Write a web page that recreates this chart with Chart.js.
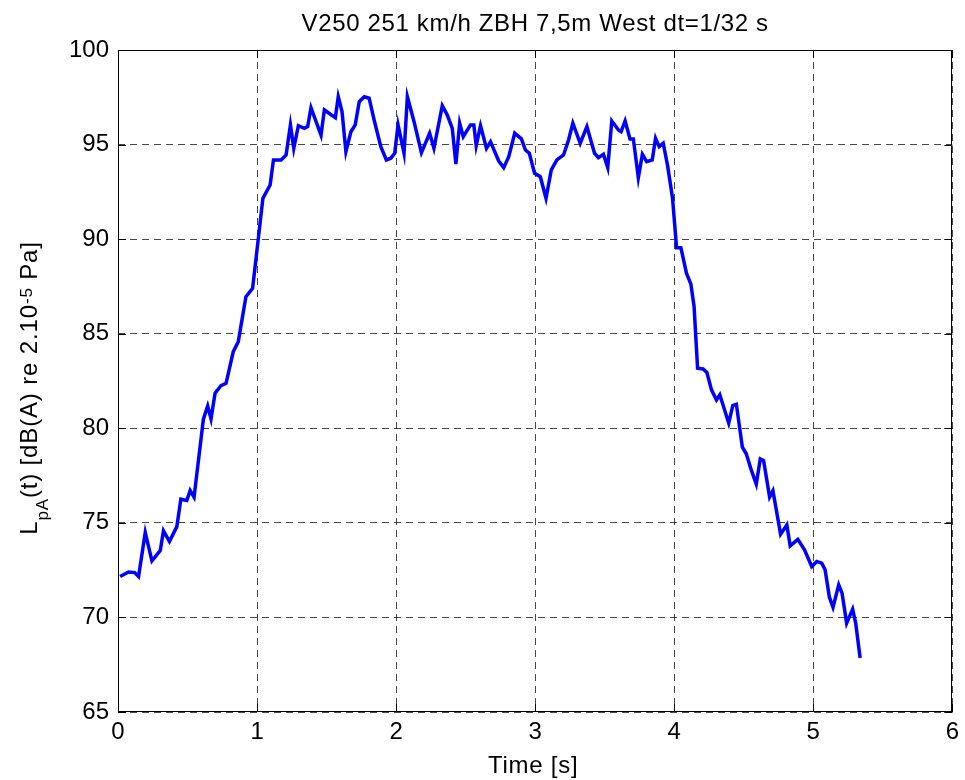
<!DOCTYPE html>
<html>
<head>
<meta charset="utf-8">
<script src="https://cdn.jsdelivr.net/npm/chart.js@4.4.1/dist/chart.umd.min.js"></script>
<style>
  html, body { margin: 0; padding: 0; background: #fff; }
  #wrap { width: 965px; height: 780px; position: relative; }
</style>
</head>
<body>
<div id="wrap"><canvas id="c" width="965" height="780"></canvas></div>
<script>
const chartTitle = "V250 251 km/h ZBH 7,5m West dt=1/32 s";
const xTitle = "Time [s]";
const xTicks = [0, 1, 2, 3, 4, 5, 6];
const yTicks = [65, 70, 75, 80, 85, 90, 95, 100];

const times = [
  0.015, 0.076, 0.12, 0.148, 0.196, 0.244, 0.304, 0.327, 0.37, 0.423,
  0.452, 0.495, 0.519, 0.547, 0.614, 0.645, 0.669, 0.698, 0.741, 0.777,
  0.829, 0.865, 0.92, 0.968, 1.008, 1.042, 1.094, 1.118, 1.173, 1.209,
  1.24, 1.264, 1.297, 1.34, 1.364, 1.388, 1.46, 1.484, 1.563, 1.584,
  1.611, 1.639, 1.675, 1.706, 1.735, 1.771, 1.806, 1.842, 1.89, 1.93,
  1.962, 1.99, 2.014, 2.057, 2.081, 2.129, 2.182, 2.241, 2.272, 2.332,
  2.368, 2.404, 2.43, 2.457, 2.483, 2.535, 2.559, 2.576, 2.607, 2.65,
  2.679, 2.738, 2.774, 2.81, 2.853, 2.901, 2.93, 2.958, 2.996, 3.037,
  3.078, 3.116, 3.156, 3.204, 3.24, 3.271, 3.324, 3.372, 3.427, 3.455,
  3.491, 3.522, 3.551, 3.599, 3.618, 3.647, 3.682, 3.706, 3.742, 3.771,
  3.802, 3.842, 3.866, 3.892, 3.921, 3.952, 3.988, 4.017, 4.048, 4.088,
  4.12, 4.143, 4.168, 4.208, 4.235, 4.268, 4.304, 4.328, 4.392, 4.421,
  4.447, 4.49, 4.518, 4.554, 4.59, 4.619, 4.643, 4.686, 4.71, 4.765,
  4.81, 4.834, 4.889, 4.937, 4.989, 5.025, 5.061, 5.085, 5.116, 5.142,
  5.183, 5.207, 5.24, 5.283, 5.305, 5.337
];
const levels = [
  72.16, 72.4, 72.37, 72.16, 74.49, 72.99, 73.54, 74.58, 74.01, 74.8,
  76.25, 76.18, 76.71, 76.36, 80.48, 81.18, 80.5, 81.85, 82.26, 82.38,
  84.05, 84.58, 86.96, 87.4, 89.96, 92.16, 92.86, 94.19, 94.19, 94.45,
  96.04, 94.8, 96.0, 95.86, 95.95, 96.95, 95.5, 96.83, 96.42, 97.53,
  96.74, 94.63, 95.68, 96.04, 97.27, 97.53, 97.45, 96.3, 94.89, 94.19,
  94.28, 94.54, 96.04, 94.54, 97.53, 96.21, 94.57, 95.6, 94.8, 97.06,
  96.56, 95.86, 93.97, 96.13, 95.42, 96.04, 96.04, 94.94, 96.0, 94.8,
  95.15, 94.13, 93.78, 94.36, 95.6, 95.3, 94.71, 94.54, 93.48, 93.3,
  92.16, 93.66, 94.19, 94.45, 95.24, 96.13, 95.07, 95.95, 94.54, 94.31,
  94.49, 93.78, 96.25, 95.77, 95.68, 96.25, 95.3, 95.3, 93.25, 94.49,
  94.1, 94.19, 95.33, 94.89, 95.07, 93.9, 92.16, 89.55, 89.55, 88.2,
  87.62, 86.43, 83.18, 83.14, 82.95, 82.03, 81.5, 81.77, 80.27, 81.2,
  81.27, 79.0, 78.65, 77.8, 77.05, 78.38, 78.29, 76.36, 76.69, 74.4,
  74.89, 73.78, 74.13, 73.57, 72.69, 72.96, 72.87, 72.52, 71.07, 70.54,
  71.72, 71.28, 69.7, 70.44, 69.7, 67.85
];

const FONT = '"Liberation Sans", Arial, Helvetica, sans-serif';
const points = times.map((t, i) => ({ x: t, y: levels[i] }));

function setSpacing(ctx, v) { if ('letterSpacing' in ctx) ctx.letterSpacing = v; }

const framePlugin = {
  id: 'frame',
  afterDraw(chart) {
    const { ctx, chartArea: a, scales } = chart;
    ctx.save();
    // box
    ctx.strokeStyle = '#000';
    ctx.lineWidth = 1;
    ctx.setLineDash([]);
    ctx.strokeRect(Math.round(a.left) + 0.5, Math.round(a.top) + 0.5,
                   Math.round(a.right - a.left) - 1, Math.round(a.bottom - a.top) - 1);
    // inward tick marks
    const tl = 8;
    ctx.beginPath();
    xTicks.forEach(v => {
      const px = Math.round(scales.x.getPixelForValue(v)) + 0.5;
      ctx.moveTo(px, a.bottom); ctx.lineTo(px, a.bottom - tl);
      ctx.moveTo(px, a.top); ctx.lineTo(px, a.top + tl);
    });
    yTicks.forEach(v => {
      const py = Math.round(scales.y.getPixelForValue(v)) + 0.5;
      ctx.moveTo(a.left, py); ctx.lineTo(a.left + tl, py);
      ctx.moveTo(a.right, py); ctx.lineTo(a.right - tl, py);
    });
    ctx.stroke();
    // title
    ctx.fillStyle = '#000';
    ctx.textAlign = 'center';
    ctx.textBaseline = 'alphabetic';
    ctx.font = '24px ' + FONT;
    setSpacing(ctx, '0.65px');
    ctx.fillText(chartTitle, (a.left + a.right) / 2, 31);
    // x title
    setSpacing(ctx, '0.75px');
    ctx.fillText(xTitle, (a.left + a.right) / 2 - 2, 773);
    // y title with sub/superscripts
    setSpacing(ctx, '0.85px');
    const parts = [
      ['L', 24, 0], ['pA', 17, 11], ['(t) [dB(A) re 2.10', 24, 0], ['-5', 17, -5], [' Pa]', 24, 0]
    ];
    let w = 0;
    parts.forEach(p => { ctx.font = p[1] + 'px ' + FONT; w += ctx.measureText(p[0]).width; });
    ctx.translate(37, 388);
    ctx.rotate(-Math.PI / 2);
    ctx.textAlign = 'left';
    let x = -w / 2;
    parts.forEach(p => {
      ctx.font = p[1] + 'px ' + FONT;
      ctx.fillText(p[0], x, p[2]);
      x += ctx.measureText(p[0]).width;
    });
    ctx.restore();
  }
};

new Chart(document.getElementById('c'), {
  type: 'line',
  data: {
    datasets: [{
      data: points,
      borderColor: '#0000ff',
      borderWidth: 3.5,
      pointRadius: 0,
      tension: 0,
      fill: false
    }]
  },
  options: {
    responsive: false,
    animation: false,
    devicePixelRatio: 1,
    layout: { padding: { top: 50, right: 10, left: 0, bottom: 0 } },
    plugins: { legend: { display: false }, title: { display: false }, tooltip: { enabled: false } },
    scales: {
      x: {
        type: 'linear', min: 0, max: 6,
        afterFit(s) { s.height = 68; },
        afterBuildTicks(s) { s.ticks = xTicks.map(v => ({ value: v })); },
        grid: { color: 'rgba(0,0,0,0.72)', lineWidth: 1, drawTicks: false, tickLength: 0 },
        border: { display: false, dash: [7, 5] },
        ticks: { font: { family: FONT, size: 24 }, color: '#000', padding: 6, maxRotation: 0 }
      },
      y: {
        type: 'linear', min: 65, max: 100,
        afterFit(s) { s.width = 118; },
        afterBuildTicks(s) { s.ticks = yTicks.map(v => ({ value: v })); },
        grid: { color: 'rgba(0,0,0,0.72)', lineWidth: 1, drawTicks: false, tickLength: 0 },
        border: { display: false, dash: [7, 5] },
        ticks: { font: { family: FONT, size: 24 }, color: '#000', padding: 9 }
      }
    }
  },
  plugins: [framePlugin]
});
</script>
</body>
</html>
